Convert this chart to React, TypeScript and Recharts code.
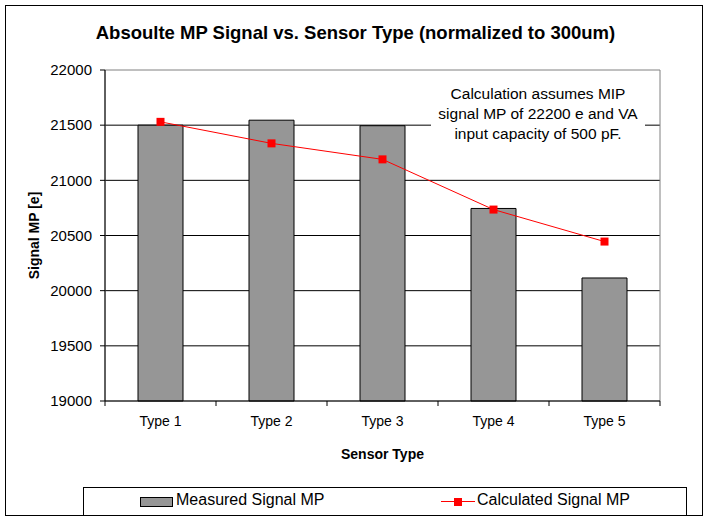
import React from "react";
import {
  ComposedChart,
  Bar,
  Line,
  XAxis,
  YAxis,
  CartesianGrid,
  ReferenceArea,
} from "recharts";

const categories = ["Type 1", "Type 2", "Type 3", "Type 4", "Type 5"];
const measured = [21500, 21545, 21495, 20745, 20115];
const calculated = [21530, 21335, 21190, 20735, 20445];
const yTicks = [19000, 19500, 20000, 20500, 21000, 21500, 22000];

const BAR_FILL = "#969696";
const LINE_RED = "#ff0000";
const FONT = '"Liberation Sans", Arial, sans-serif';

const data = categories.map((name, i) => ({
  name,
  measured: measured[i],
  calculated: calculated[i],
}));

const SquareDot = (props: any) => {
  const { cx, cy } = props;
  if (cx == null || cy == null) return null;
  return <rect x={cx - 4} y={cy - 4} width={8} height={8} fill={LINE_RED} />;
};

// category label plus tick marks on the band edges (Excel style)
const CategoryTick = (props: any) => {
  const { x, y, payload, index } = props;
  const half = payload?.offset ?? 0;
  const top = y - 15;
  return (
    <g>
      <line x1={x - half} y1={top} x2={x - half} y2={top + 5} stroke="#000" />
      {index === categories.length - 1 && (
        <line x1={x + half} y1={top} x2={x + half} y2={top + 5} stroke="#000" />
      )}
      <text
        x={x}
        y={y}
        dy="0.71em"
        textAnchor="middle"
        fontSize={14}
        fill="#000"
        fontFamily={FONT}
      >
        {payload.value}
      </text>
    </g>
  );
};

export default function App() {
  return (
    <div
      style={{
        position: "absolute",
        left: 0,
        top: 0,
        width: 711,
        height: 523,
        background: "#fff",
        fontFamily: FONT,
        color: "#000",
      }}
    >
      <div
        style={{
          position: "absolute",
          left: 5,
          top: 5,
          width: 698,
          height: 511,
          border: "1px solid #000",
          boxSizing: "border-box",
        }}
      />
      <div
        style={{
          position: "absolute",
          left: 0,
          top: 22,
          width: 711,
          textAlign: "center",
          fontWeight: "bold",
          fontSize: 18.5,
        }}
      >
        Absoulte MP Signal vs. Sensor Type (normalized to 300um)
      </div>
      <div style={{ position: "absolute", left: 0, top: 0 }}>
        <ComposedChart
          width={711}
          height={523}
          data={data}
          margin={{ top: 70, right: 51, bottom: 64, left: 0 }}
        >
          <ReferenceArea
            y1={19000}
            y2={22000}
            fill="none"
            stroke="#808080"
            strokeWidth={1}
            ifOverflow="visible"
          />
          <CartesianGrid
            vertical={false}
            stroke="#000"
            horizontalValues={[19500, 20000, 20500, 21000, 21500]}
          />
          <XAxis
            dataKey="name"
            tickLine={false}
            tickSize={5}
            tickMargin={10}
            axisLine={{ stroke: "#000" }}
            tick={<CategoryTick />}
            height={58}
            label={{
              value: "Sensor Type",
              position: "insideBottom",
              offset: 0,
              fontWeight: "bold",
              fontSize: 14,
              fill: "#000",
              fontFamily: FONT,
            }}
          />
          <YAxis
            domain={[19000, 22000]}
            ticks={yTicks}
            width={105}
            tickSize={5}
            tickMargin={8}
            axisLine={{ stroke: "#000" }}
            tickLine={{ stroke: "#000" }}
            tick={{ fontSize: 15, fill: "#000", fontFamily: FONT }}
            label={{
              value: "Signal MP [e]",
              angle: -90,
              position: "insideLeft",
              offset: 34,
              fontWeight: "bold",
              fontSize: 14,
              fill: "#000",
              fontFamily: FONT,
              style: { textAnchor: "middle" },
            }}
          />
          <Bar
            dataKey="measured"
            fill={BAR_FILL}
            stroke="#000"
            strokeWidth={1}
            barSize={45}
            isAnimationActive={false}
          />
          <Line
            dataKey="calculated"
            type="linear"
            stroke={LINE_RED}
            strokeWidth={1}
            dot={<SquareDot />}
            activeDot={false}
            isAnimationActive={false}
          />
        </ComposedChart>
      </div>
      <div
        style={{
          position: "absolute",
          left: 431,
          top: 84,
          width: 214,
          height: 62,
          background: "#fff",
          textAlign: "center",
          fontSize: 15.5,
          lineHeight: "20px",
        }}
      >
        Calculation assumes MIP
        <br />
        signal MP of 22200 e and VA
        <br />
        input capacity of 500 pF.
      </div>
      <div
        style={{
          position: "absolute",
          left: 83,
          top: 487,
          width: 604,
          height: 29,
          border: "1px solid #000",
          boxSizing: "border-box",
          background: "#fff",
          fontSize: 16,
        }}
      >
        <div
          style={{
            position: "absolute",
            left: 56,
            top: 9,
            width: 33,
            height: 10,
            background: BAR_FILL,
            border: "1px solid #000",
            boxSizing: "border-box",
          }}
        />
        <div style={{ position: "absolute", left: 92, top: 3 }}>Measured Signal MP</div>
        <div
          style={{
            position: "absolute",
            left: 357,
            top: 13,
            width: 34,
            height: 1,
            background: LINE_RED,
          }}
        />
        <div
          style={{
            position: "absolute",
            left: 370,
            top: 10,
            width: 8,
            height: 8,
            background: LINE_RED,
          }}
        />
        <div style={{ position: "absolute", left: 393, top: 3 }}>Calculated Signal MP</div>
      </div>
    </div>
  );
}
